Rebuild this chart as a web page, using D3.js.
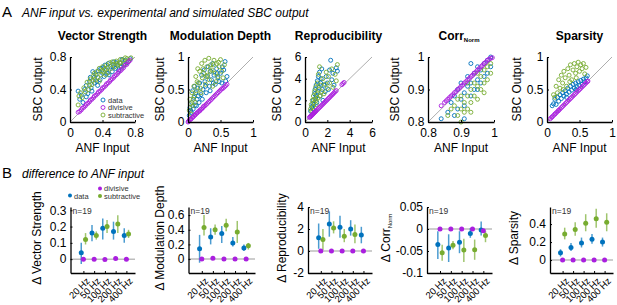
<!DOCTYPE html>
<html>
<head>
<meta charset="utf-8">
<script src="https://cdn.jsdelivr.net/npm/d3@7"></script>
<style>
body { margin: 0; background: #fff; }
svg { font-family: Arial, "Liberation Sans", sans-serif; }
</style>
</head>
<body>
<svg id="fig" width="617" height="305"></svg>
<script>
// ---------- panel A: ANF input vs SBC output, [input, output] pairs ----------
const vsData = [[0.10,0.38],[0.12,0.28],[0.14,0.33],[0.16,0.24],[0.18,0.40],[0.20,0.45],[0.22,0.35],[0.24,0.50],[0.26,0.42],[0.28,0.62],[0.30,0.48],[0.30,0.55],[0.32,0.58],[0.34,0.45],[0.35,0.63],[0.37,0.52],[0.38,0.66],[0.40,0.60],[0.42,0.56],[0.43,0.70],[0.45,0.64],[0.47,0.72],[0.48,0.58],[0.50,0.68],[0.52,0.62],[0.54,0.74],[0.56,0.66],[0.58,0.70],[0.60,0.64],[0.62,0.72],[0.64,0.77],[0.66,0.70],[0.68,0.76],[0.70,0.73],[0.74,0.78],[0.25,0.55],[0.33,0.50],[0.41,0.67],[0.46,0.60],[0.53,0.68],[0.57,0.73],[0.63,0.68],[0.20,0.31],[0.27,0.38]];
const vsSub = [[0.10,0.21],[0.11,0.32],[0.13,0.36],[0.15,0.30],[0.17,0.42],[0.19,0.37],[0.21,0.49],[0.23,0.40],[0.25,0.53],[0.27,0.46],[0.29,0.57],[0.31,0.52],[0.33,0.62],[0.34,0.55],[0.36,0.66],[0.38,0.58],[0.40,0.68],[0.41,0.62],[0.43,0.65],[0.45,0.70],[0.47,0.61],[0.49,0.73],[0.51,0.66],[0.53,0.71],[0.55,0.68],[0.57,0.75],[0.59,0.70],[0.61,0.73],[0.63,0.69],[0.65,0.76],[0.67,0.72],[0.70,0.78],[0.72,0.75],[0.75,0.79],[0.36,0.50],[0.44,0.58],[0.30,0.60],[0.39,0.63],[0.46,0.67],[0.52,0.74],[0.58,0.72],[0.62,0.77],[0.68,0.79],[0.24,0.45],[0.28,0.51]];
const vsDiv = [[0.10,0.12],[0.12,0.13],[0.14,0.15],[0.15,0.17],[0.17,0.18],[0.19,0.20],[0.20,0.22],[0.22,0.23],[0.24,0.25],[0.25,0.27],[0.27,0.28],[0.29,0.30],[0.30,0.32],[0.32,0.33],[0.34,0.35],[0.35,0.37],[0.37,0.38],[0.39,0.40],[0.40,0.42],[0.42,0.43],[0.44,0.45],[0.45,0.47],[0.47,0.48],[0.49,0.50],[0.50,0.52],[0.52,0.53],[0.54,0.55],[0.55,0.57],[0.57,0.58],[0.59,0.60],[0.60,0.62],[0.62,0.63],[0.64,0.65],[0.66,0.67],[0.68,0.70],[0.70,0.71],[0.72,0.74],[0.74,0.76]];

const mdData = [[0.02,0.10],[0.03,0.22],[0.05,0.15],[0.06,0.30],[0.08,0.20],[0.09,0.38],[0.11,0.26],[0.12,0.45],[0.14,0.35],[0.15,0.52],[0.17,0.30],[0.18,0.60],[0.20,0.42],[0.21,0.72],[0.23,0.50],[0.25,0.80],[0.26,0.62],[0.28,0.45],[0.30,0.70],[0.31,0.85],[0.33,0.55],[0.35,0.78],[0.36,0.65],[0.38,0.90],[0.40,0.72],[0.42,0.58],[0.44,0.82],[0.46,0.68],[0.48,0.62],[0.50,0.75],[0.52,0.60],[0.55,0.80],[0.57,0.93],[0.58,0.63],[0.60,0.70],[0.10,0.55],[0.07,0.48],[0.04,0.18],[0.13,0.25],[0.16,0.40],[0.22,0.35],[0.27,0.55],[0.34,0.48],[0.39,0.60],[0.45,0.75],[0.53,0.85]];
const mdSub = [[0.02,0.18],[0.03,0.35],[0.04,0.28],[0.06,0.45],[0.07,0.25],[0.09,0.55],[0.10,0.40],[0.12,0.70],[0.13,0.48],[0.15,0.82],[0.16,0.60],[0.18,0.78],[0.19,0.52],[0.21,0.90],[0.22,0.68],[0.24,0.75],[0.26,0.95],[0.27,0.58],[0.29,0.85],[0.30,0.72],[0.32,0.98],[0.33,0.65],[0.35,0.88],[0.37,0.80],[0.38,0.55],[0.40,0.95],[0.42,0.75],[0.44,0.90],[0.46,0.70],[0.48,0.85],[0.50,0.96],[0.52,0.78],[0.54,0.68],[0.56,0.88],[0.08,0.35],[0.05,0.12],[0.11,0.30],[0.14,0.62],[0.20,0.45],[0.23,0.82],[0.28,0.70],[0.34,0.78],[0.39,0.88],[0.43,0.62],[0.47,0.92]];
const mdDiv = [[0.00,0.00],[0.01,0.01],[0.02,0.03],[0.04,0.04],[0.05,0.05],[0.07,0.07],[0.08,0.08],[0.10,0.10],[0.11,0.11],[0.13,0.13],[0.14,0.14],[0.16,0.16],[0.18,0.17],[0.19,0.19],[0.21,0.20],[0.23,0.22],[0.24,0.24],[0.26,0.25],[0.28,0.27],[0.30,0.29],[0.32,0.31],[0.34,0.33],[0.36,0.35],[0.38,0.37],[0.40,0.39],[0.42,0.41],[0.44,0.43],[0.46,0.45],[0.48,0.47],[0.50,0.49],[0.52,0.51],[0.54,0.52],[0.56,0.54],[0.58,0.56],[0.60,0.58]];

const repData = [[0.50,1.00],[0.60,1.40],[0.70,1.20],[0.75,2.00],[0.80,1.60],[0.85,2.60],[0.90,3.00],[0.95,2.20],[1.00,3.40],[1.05,1.80],[1.10,3.80],[1.15,2.80],[1.20,4.20],[1.25,3.20],[1.30,4.60],[1.35,2.40],[1.40,3.60],[1.45,4.00],[1.50,4.90],[1.55,3.00],[1.60,2.00],[1.70,3.40],[1.80,2.80],[1.90,4.20],[2.00,3.60],[2.10,3.00],[2.20,4.80],[2.30,5.70],[2.40,3.90],[2.50,4.50],[2.60,3.40],[2.80,5.00],[2.90,4.70],[1.00,2.40],[0.70,1.70]];
const repSub = [[0.50,1.20],[0.55,1.60],[0.65,2.00],[0.70,1.40],[0.75,2.40],[0.80,1.80],[0.85,2.80],[0.90,2.10],[0.95,3.20],[1.00,1.60],[1.05,2.60],[1.10,3.60],[1.15,2.20],[1.20,4.40],[1.25,3.00],[1.30,5.10],[1.35,2.40],[1.40,3.40],[1.50,2.80],[1.60,4.00],[1.70,2.60],[1.80,3.50],[1.90,4.60],[2.00,3.10],[2.10,4.20],[2.20,3.60],[2.40,4.90],[2.50,3.20],[2.70,4.40],[2.80,3.80],[2.90,5.30],[0.60,1.00],[1.00,2.00]];
const repDiv = [[0.40,0.42],[0.45,0.47],[0.50,0.52],[0.55,0.57],[0.60,0.62],[0.65,0.68],[0.70,0.72],[0.75,0.78],[0.80,0.83],[0.85,0.88],[0.90,0.93],[0.95,0.98],[1.00,1.04],[1.10,1.13],[1.20,1.24],[1.30,1.34],[1.40,1.44],[1.50,1.55],[1.60,1.65],[1.70,1.75],[1.80,1.86],[1.90,1.96],[2.00,2.06],[2.10,2.17],[2.20,2.27],[2.30,2.38],[2.40,2.48],[2.50,2.58],[2.60,2.70],[2.70,2.80],[2.80,2.90],[3.30,3.45],[3.40,3.55],[3.50,3.65]];

const corrData = [[0.84,0.81],[0.86,0.83],[0.87,0.86],[0.88,0.88],[0.89,0.84],[0.89,0.90],[0.90,0.87],[0.90,0.92],[0.91,0.85],[0.91,0.89],[0.92,0.91],[0.92,0.94],[0.93,0.88],[0.93,0.92],[0.94,0.90],[0.94,0.95],[0.95,0.93],[0.95,0.97],[0.96,0.92],[0.96,0.96],[0.97,0.94],[0.97,0.98],[0.98,0.95],[0.98,0.99],[0.99,0.97],[0.99,1.00],[0.93,0.98],[0.91,0.81],[0.88,0.82],[0.95,0.90]];
const corrSub = [[0.86,0.82],[0.87,0.84],[0.88,0.85],[0.89,0.82],[0.89,0.87],[0.90,0.84],[0.90,0.88],[0.91,0.83],[0.91,0.86],[0.92,0.88],[0.92,0.84],[0.93,0.86],[0.93,0.90],[0.94,0.88],[0.94,0.92],[0.95,0.87],[0.95,0.91],[0.96,0.90],[0.96,0.94],[0.97,0.92],[0.97,0.96],[0.98,0.93],[0.98,0.97],[0.99,0.95],[0.99,0.98],[0.93,0.83],[0.90,0.80],[0.97,0.89],[0.95,0.95],[0.92,0.92]];
const corrDiv = [[0.84,0.85],[0.85,0.86],[0.855,0.865],[0.86,0.87],[0.865,0.875],[0.87,0.88],[0.875,0.884],[0.88,0.89],[0.885,0.894],[0.89,0.90],[0.895,0.904],[0.90,0.91],[0.905,0.914],[0.91,0.92],[0.915,0.924],[0.92,0.93],[0.925,0.934],[0.93,0.94],[0.935,0.944],[0.94,0.95],[0.945,0.954],[0.95,0.96],[0.955,0.964],[0.96,0.97],[0.965,0.974],[0.97,0.98],[0.975,0.984],[0.98,0.99],[0.985,0.993],[0.99,0.996],[0.995,0.998]];

const spData = [[0.08,0.25],[0.10,0.28],[0.12,0.35],[0.14,0.27],[0.16,0.38],[0.18,0.32],[0.20,0.42],[0.22,0.36],[0.24,0.45],[0.26,0.40],[0.28,0.48],[0.30,0.43],[0.32,0.52],[0.34,0.46],[0.36,0.55],[0.38,0.49],[0.40,0.58],[0.42,0.52],[0.44,0.60],[0.46,0.54],[0.48,0.62],[0.50,0.56],[0.52,0.64],[0.54,0.58],[0.56,0.66],[0.58,0.62],[0.60,0.68],[0.62,0.71],[0.30,0.38],[0.45,0.50]];
const spSub = [[0.12,0.38],[0.14,0.55],[0.16,0.45],[0.18,0.65],[0.20,0.52],[0.22,0.72],[0.24,0.60],[0.26,0.78],[0.28,0.68],[0.30,0.55],[0.32,0.82],[0.34,0.72],[0.36,0.88],[0.38,0.65],[0.40,0.80],[0.42,0.90],[0.44,0.75],[0.46,0.85],[0.48,0.92],[0.50,0.78],[0.52,0.88],[0.54,0.82],[0.56,0.90],[0.58,0.74],[0.60,0.84],[0.10,0.42],[0.25,0.50],[0.35,0.62],[0.45,0.68]];
const spDiv = [[0.05,0.05],[0.07,0.07],[0.08,0.08],[0.10,0.10],[0.12,0.12],[0.13,0.13],[0.15,0.15],[0.17,0.17],[0.18,0.18],[0.20,0.20],[0.22,0.22],[0.24,0.24],[0.26,0.26],[0.28,0.28],[0.30,0.30],[0.32,0.32],[0.34,0.34],[0.36,0.36],[0.38,0.38],[0.40,0.40],[0.42,0.42],[0.44,0.44],[0.46,0.46],[0.48,0.48],[0.50,0.50],[0.52,0.52],[0.54,0.54],[0.56,0.56],[0.58,0.58],[0.60,0.60],[0.62,0.62],[0.63,0.63]];

// ---------- panel B: difference to ANF input, [mean, low, high] per frequency ----------
const freqLabels = ["20 Hz", "50 Hz", "100 Hz", "200 Hz", "400 Hz"];
const dVsData  = [[0.04,-0.03,0.10],[0.16,0.11,0.21],[0.19,0.12,0.25],[0.17,0.12,0.23],[0.145,0.10,0.19]];
const dVsSub   = [[0.12,0.09,0.16],[0.145,0.12,0.17],[0.20,0.16,0.24],[0.215,0.16,0.27],[0.155,0.13,0.18]];
const dVsDiv   = [0, 0, -0.002, 0.004, -0.001];
const dMdData  = [[0.14,-0.05,0.33],[0.30,0.20,0.42],[0.35,0.22,0.45],[0.22,0.17,0.30],[0.15,0.11,0.20]];
const dMdSub   = [[0.43,0.32,0.60],[0.40,0.33,0.47],[0.46,0.38,0.55],[0.37,0.22,0.52],[0.18,0.13,0.22]];
const dMdDiv   = [0, 0.01, 0, 0, 0];
const dRepData = [[1.2,0.2,2.5],[2.45,1.3,3.6],[2.15,1.2,3.2],[2.0,1.4,2.8],[1.45,0.7,2.2]];
const dRepSub  = [[1.05,0.1,2.0],[2.1,1.6,2.7],[1.35,0.8,2.0],[1.5,0.7,2.4],null];
const dRepDiv  = [0, 0, 0, 0, 0];
const dCorrData = [[-0.035,-0.068,-0.005],[-0.043,-0.075,-0.012],[-0.030,-0.055,-0.005],[-0.010,-0.020,0.002],[-0.002,-0.015,0.017]];
const dCorrSub  = [[-0.054,-0.072,-0.036],[-0.037,-0.046,-0.027],[-0.048,-0.075,-0.022],[-0.047,-0.070,-0.024],[-0.015,-0.030,-0.005]];
const dCorrDiv  = [0, 0, 0, 0, -0.004];
const dSpData  = [[0.08,0.04,0.12],[0.14,0.10,0.19],[0.19,0.14,0.25],[0.23,0.18,0.29],[0.20,0.15,0.25]];
const dSpSub   = [[0.29,0.23,0.36],[0.34,0.27,0.42],[0.41,0.32,0.51],[0.46,0.36,0.57],[0.42,0.32,0.52]];
const dSpDiv   = [0, 0, 0, 0, 0];

const colData = "#0072BD", colDiv = "#AA1FDF", colSub = "#77AC30";
const svg = d3.select("#fig");

function styleAxis(sel) {
    sel.attr("font-size", null).attr("font-family", null);
    sel.select(".domain").attr("stroke", "#000").attr("stroke-width", 1.3);
    sel.selectAll(".tick line").attr("stroke", "#000");
    sel.selectAll(".tick text").attr("fill", "#000").style("font-size", "12px");
}

function drawScatter(p) {
    const top = 57, h = 65;
    const g = svg.append("g").attr("transform", `translate(${p.left},${top})`);
    const x = d3.scaleLinear().domain(p.domain).range([0, p.w]);
    const y = d3.scaleLinear().domain(p.domain).range([h, 0]);

    g.append("line")
        .attr("x1", x(p.domain[0])).attr("y1", y(p.domain[0]))
        .attr("x2", x(p.domain[1])).attr("y2", y(p.domain[1]))
        .attr("stroke", "#999").attr("stroke-width", 0.8);

    [[p.data, colData], [p.sub, colSub], [p.div, colDiv]].forEach(([pts, c]) => {
        g.append("g").selectAll("circle")
            .data(pts)
            .enter().append("circle")
            .attr("cx", d => x(d[0]))
            .attr("cy", d => y(d[1]))
            .attr("r", 2)
            .attr("fill", "none")
            .attr("stroke", c)
            .attr("stroke-width", 0.9);
    });

    g.append("g")
        .attr("transform", `translate(0,${h})`)
        .call(d3.axisBottom(x).tickValues(p.ticks).tickFormat(d => String(d)).tickSize(-2).tickSizeOuter(0).tickPadding(6))
        .call(styleAxis);
    g.append("g")
        .call(d3.axisLeft(y).tickValues(p.ticks).tickFormat(d => String(d)).tickSize(-2).tickSizeOuter(0).tickPadding(3.5))
        .call(styleAxis);

    // title
    const t = svg.append("text")
        .attr("x", p.left + p.w / 2 + (p.titleShift || 0))
        .attr("y", 40)
        .attr("text-anchor", "middle")
        .attr("font-weight", "bold")
        .attr("font-size", 12)
        .text(p.title);
    if (p.sub2) t.append("tspan").attr("font-size", 6).attr("dy", 1.5).text(p.sub2);

    svg.append("text")
        .attr("x", p.left + p.w / 2)
        .attr("y", 152)
        .attr("text-anchor", "middle")
        .attr("font-size", 12)
        .text("ANF Input");

    svg.append("text")
        .attr("transform", `translate(${p.labelX},${top + h / 2}) rotate(-90)`)
        .attr("text-anchor", "middle")
        .attr("font-size", 12)
        .text("SBC Output");
}

function drawDelta(p) {
    const top = 207, bottom = 273;
    const g = svg.append("g").attr("transform", `translate(${p.left},0)`);
    const x = d3.scaleLinear().domain([-0.2, 5.8]).range([0, p.w]);
    const y = d3.scaleLinear().domain(p.ylim).range([bottom, top]);
    const cats = [1, 2, 3, 4, 5];

    // zero line
    g.append("line")
        .attr("x1", 0).attr("x2", p.w)
        .attr("y1", y(0)).attr("y2", y(0))
        .attr("stroke", "#bdbdbd").attr("stroke-width", 1.5);

    [[p.data, colData, -0.2], [p.sub, colSub, 0.2]].forEach(([vals, c, off]) => {
        const pts = vals.map((v, i) => v ? { i: i + 1, m: v[0], lo: v[1], hi: v[2] } : null).filter(d => d);
        g.append("g").selectAll("line")
            .data(pts)
            .enter().append("line")
            .attr("x1", d => x(d.i + off)).attr("x2", d => x(d.i + off))
            .attr("y1", d => y(d.lo)).attr("y2", d => y(d.hi))
            .attr("stroke", c).attr("stroke-opacity", 0.7).attr("stroke-width", 1.5);
        g.append("g").selectAll("circle")
            .data(pts)
            .enter().append("circle")
            .attr("cx", d => x(d.i + off))
            .attr("cy", d => y(d.m))
            .attr("r", 2.5)
            .attr("fill", c);
    });

    g.append("g").selectAll("circle")
        .data(p.div)
        .enter().append("circle")
        .attr("cx", (d, i) => x(i + 1))
        .attr("cy", d => y(d))
        .attr("r", 2.5)
        .attr("fill", colDiv);

    const xa = g.append("g")
        .attr("transform", `translate(0,${bottom})`)
        .call(d3.axisBottom(x).tickValues(cats).tickFormat(i => freqLabels[i - 1]).tickSize(-2).tickSizeOuter(0))
        .call(styleAxis);
    xa.selectAll(".tick text")
        .style("font-size", "9.5px")
        .attr("text-anchor", "end")
        .attr("x", -1.5).attr("y", 7.5).attr("dy", "0.35em")
        .attr("transform", "rotate(-45)");

    g.append("g")
        .call(d3.axisLeft(y).tickValues(p.ticks).tickFormat(d => String(d)).tickSize(-2).tickSizeOuter(0).tickPadding(4))
        .call(styleAxis);

    g.append("text")
        .attr("x", 2).attr("y", 213.5)
        .attr("font-size", 8.5)
        .attr("fill", "#333")
        .text("n=19");

    const lab = svg.append("text")
        .attr("transform", `translate(${p.labelX},238) rotate(-90)`)
        .attr("text-anchor", "middle")
        .attr("font-size", 12)
        .text(p.label);
    if (p.sub2) lab.append("tspan").attr("font-size", 6).attr("dy", 2).text(p.sub2);
}

// headings
svg.append("text").attr("x", 2).attr("y", 17).attr("font-size", 15).text("A");
svg.append("text").attr("x", 22).attr("y", 17).attr("font-size", 12).attr("font-style", "italic")
    .text("ANF input vs. experimental and simulated SBC output");
svg.append("text").attr("x", 2).attr("y", 178).attr("font-size", 15).text("B");
svg.append("text").attr("x", 22).attr("y", 178).attr("font-size", 12).attr("font-style", "italic")
    .text("difference to ANF input");

drawScatter({ left: 70, w: 65, domain: [0, 0.8], ticks: [0, 0.4, 0.8], title: "Vector Strength", labelX: 42, data: vsData, sub: vsSub, div: vsDiv });
drawScatter({ left: 188, w: 65, domain: [0, 1], ticks: [0, 0.5, 1], title: "Modulation Depth", labelX: 164, data: mdData, sub: mdSub, div: mdDiv });
drawScatter({ left: 305, w: 67, domain: [0, 6], ticks: [0, 2, 4, 6], title: "Reproducibility", labelX: 281, data: repData, sub: repSub, div: repDiv });
drawScatter({ left: 428, w: 66, domain: [0.8, 1], ticks: [0.8, 0.9, 1], title: "Corr", sub2: "Norm", titleShift: -2, labelX: 399, data: corrData, sub: corrSub, div: corrDiv });
drawScatter({ left: 547, w: 65, domain: [0, 1], ticks: [0, 0.5, 1], title: "Sparsity", labelX: 521, data: spData, sub: spSub, div: spDiv });

// legend in first scatter
const legA = [["data", colData], ["divisive", colDiv], ["subtractive", colSub]];
legA.forEach(([name, c], i) => {
    svg.append("circle").attr("cx", 103).attr("cy", 100 + i * 7.5).attr("r", 2)
        .attr("fill", "none").attr("stroke", c).attr("stroke-width", 0.9);
    svg.append("text").attr("x", 108).attr("y", 102.8 + i * 7.5).attr("font-size", 7.5).attr("fill", "#333").text(name);
});

drawDelta({ left: 70.5, w: 64.5, ylim: [-0.085, 0.32], ticks: [0, 0.1, 0.2, 0.3], label: "\u0394 Vector Strength", labelX: 41, data: dVsData, sub: dVsSub, div: dVsDiv });
drawDelta({ left: 188.5, w: 66.5, ylim: [-0.19, 0.71], ticks: [0, 0.2, 0.4, 0.6], label: "\u0394 Modulation Depth", labelX: 164, data: dMdData, sub: dMdSub, div: dMdDiv });
drawDelta({ left: 308, w: 64, ylim: [-2, 4], ticks: [-2, 0, 2, 4], label: "\u0394 Reproducibility", labelX: 286, data: dRepData, sub: dRepSub, div: dRepDiv });
drawDelta({ left: 427, w: 65, ylim: [-0.1, 0.05], ticks: [-0.1, -0.05, 0, 0.05], label: "\u0394 Corr", sub2: "Norm", labelX: 390, data: dCorrData, sub: dCorrSub, div: dCorrDiv });
drawDelta({ left: 550, w: 63, ylim: [-0.144, 0.59], ticks: [0, 0.2, 0.4], label: "\u0394 Sparsity", labelX: 518, data: dSpData, sub: dSpSub, div: dSpDiv });

// legend in panel B
svg.append("circle").attr("cx", 70).attr("cy", 195.5).attr("r", 2).attr("fill", colData);
svg.append("text").attr("x", 74).attr("y", 198.5).attr("font-size", 7.5).attr("fill", "#333").text("data");
svg.append("circle").attr("cx", 100).attr("cy", 188.5).attr("r", 2).attr("fill", colDiv);
svg.append("text").attr("x", 104).attr("y", 191).attr("font-size", 7.5).attr("fill", "#333").text("divisive");
svg.append("circle").attr("cx", 100).attr("cy", 196).attr("r", 2).attr("fill", colSub);
svg.append("text").attr("x", 104).attr("y", 198.5).attr("font-size", 7.5).attr("fill", "#333").text("subtractive");
</script>
</body>
</html>
